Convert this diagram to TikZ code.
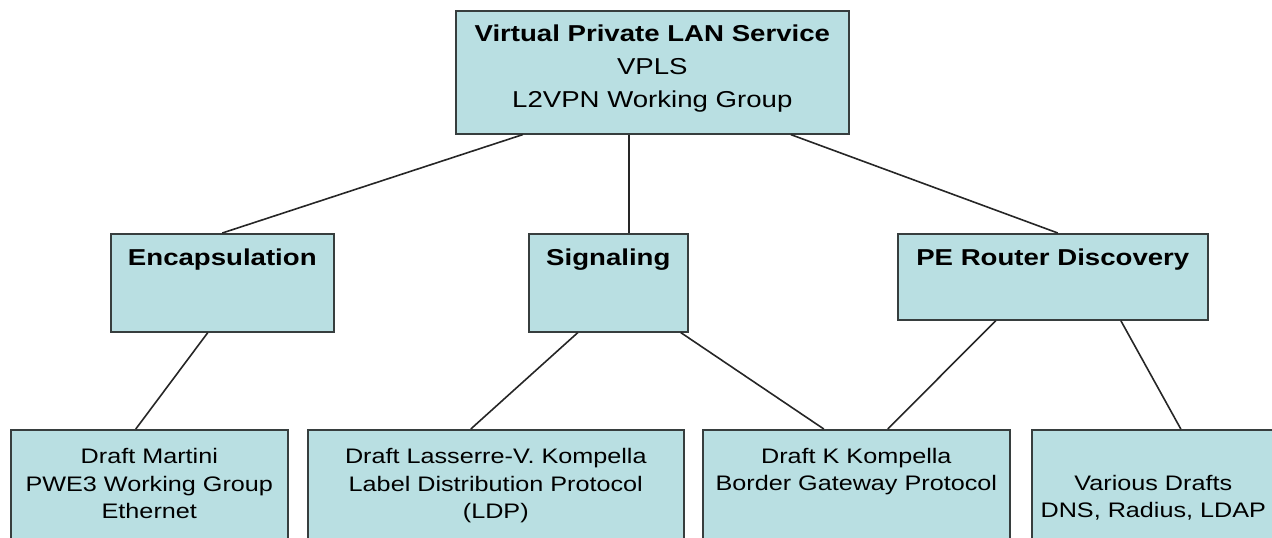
\documentclass[tikz,border=0pt]{standalone}
\usepackage{fontspec}
\setmainfont[FakeStretch=1.2]{Liberation Sans}
\definecolor{boxfill}{RGB}{185,223,226}
\definecolor{boxline}{RGB}{55,62,62}

\begin{document}
\begin{tikzpicture}[x=1pt, y=-1pt,
	box/.style={draw=boxline, fill=boxfill, line width=1.6pt, inner sep=0pt, anchor=north west, align=center},
	topfont/.style={font=\fontsize{23}{33}\selectfont},
	midfont/.style={font=\fontsize{23}{28}\selectfont\bfseries},
	lowfont/.style={font=\fontsize{21}{27.5}\selectfont},
	link/.style={draw=black!85, line width=1.6pt}]
	\useasboundingbox (0,0) rectangle (1272,538);

	\node[box, topfont, minimum width=393pt, text height=97pt, text depth=26pt] (vpls) at (455,10) {\textbf{Virtual Private LAN Service}\\VPLS\\L2VPN Working Group};

	\node[box, midfont, minimum width=223pt, text height=32pt, text depth=66pt] (encap) at (110,233) {Encapsulation};
	\node[box, midfont, minimum width=159pt, text height=32pt, text depth=66pt] (signal) at (528,233) {Signaling};
	\node[box, midfont, minimum width=310pt, text height=32pt, text depth=54pt] (pedisc) at (897,233) {PE Router Discovery};

	\node[box, lowfont, minimum width=277pt, text height=89pt, text depth=80pt] (martini) at (10,429) {Draft Martini\\PWE3 Working Group\\Ethernet};
	\node[box, lowfont, minimum width=376pt, text height=89pt, text depth=80pt] (lasserre) at (307,429) {Draft Lasserre-V. Kompella\\Label Distribution Protocol\\(LDP)};
	\node[box, lowfont, minimum width=307pt, text height=61pt, text depth=108pt] (kkomp) at (702,429) {Draft K Kompella\\Border Gateway Protocol};
	\node[box, lowfont, minimum width=243pt, text height=88pt, text depth=81pt] (various) at (1031,429) {Various Drafts\\DNS, Radius, LDAP};

	\draw[link] ([xshift=-129.5pt]vpls.south) -- (encap.north);
	\draw[link] ([xshift=-23.5pt]vpls.south) -- ([xshift=20.5pt]signal.north);
	\draw[link] ([xshift=138.5pt]vpls.south) -- ([xshift=5pt]pedisc.north);
	\draw[link] ([xshift=-14.5pt]encap.south) -- ([xshift=-13.5pt]martini.north);
	\draw[link] ([xshift=-30.5pt]signal.south) -- ([xshift=-25pt]lasserre.north);
	\draw[link] ([xshift=72.5pt]signal.south) -- ([xshift=-32.5pt]kkomp.north);
	\draw[link] ([xshift=-57pt]pedisc.south) -- ([xshift=31.5pt]kkomp.north);
	\draw[link] ([xshift=68pt]pedisc.south) -- ([xshift=27.5pt]various.north);
\end{tikzpicture}
\end{document}
